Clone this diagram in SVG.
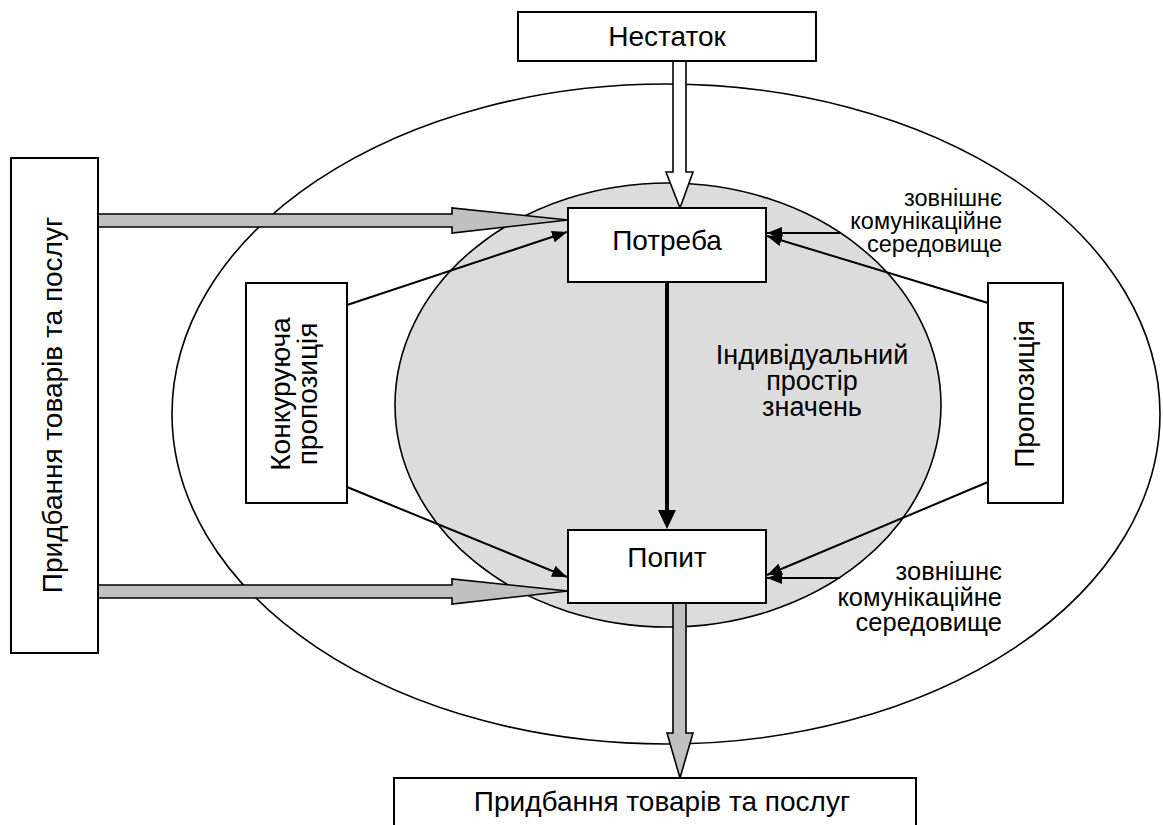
<svg xmlns="http://www.w3.org/2000/svg" width="1163" height="825" viewBox="0 0 1163 825">
<style>
.box{fill:#fff;stroke:#000;stroke-width:2}
.lbl{font-family:"Liberation Sans",Arial,sans-serif;font-size:28px;fill:#000;text-anchor:middle}
.mid{font-family:"Liberation Sans",Arial,sans-serif;font-size:27px;fill:#000;text-anchor:middle}
.side{font-family:"Liberation Sans",Arial,sans-serif;fill:#000;text-anchor:end}
.ln{stroke:#000;stroke-width:2;fill:none}
.gray{fill:#c0c0c0;stroke:#000;stroke-width:1.6;stroke-linejoin:miter}
</style>
<defs>
<marker id="ah" markerUnits="userSpaceOnUse" markerWidth="16" markerHeight="12" refX="15" refY="6" orient="auto">
<path d="M0,0 L15,6 L0,12 z" fill="#000"/>
</marker>
</defs>
<rect width="1163" height="825" fill="#fff"/>
<g id="outer-ellipse"><ellipse cx="666" cy="414" rx="494" ry="330" fill="#fff" stroke="#000" stroke-width="1.6"/></g>
<g id="inner-ellipse"><ellipse cx="668" cy="405" rx="273" ry="222" fill="#dcdcdc" stroke="#000" stroke-width="1.6"/></g>
<g id="center-text">
<text class="mid" x="812" y="364">Індивідуальний</text>
<text class="mid" x="812" y="390">простір</text>
<text class="mid" x="812" y="416">значень</text>
</g>
<g id="connectors">
<polygon class="gray" points="98,214 452,214 452,208 568,220 452,233 452,227 98,227"/>
<polygon class="gray" points="98,585 452,585 452,579 568,591 452,604 452,598 98,598"/>
<polygon class="gray" points="673,603 686,603 686,733 693,733 680,778 667,733 673,733"/>
<polygon points="673,61 686,61 686,172 693,172 680,208 666,172 673,172" fill="#fff" stroke="#000" stroke-width="1.6"/>
<line x1="667" y1="282" x2="667" y2="512" stroke="#000" stroke-width="4"/>
<polygon points="658,510 676,510 667,529" fill="#000"/>
<line class="ln" x1="347" y1="305" x2="567" y2="232" marker-end="url(#ah)"/>
<line class="ln" x1="347" y1="487" x2="567" y2="577" marker-end="url(#ah)"/>
<line class="ln" x1="988" y1="303" x2="767" y2="236" marker-end="url(#ah)"/>
<line class="ln" x1="840" y1="233" x2="767" y2="233" marker-end="url(#ah)"/>
<line class="ln" x1="988" y1="482" x2="767" y2="575" marker-end="url(#ah)"/>
<line class="ln" x1="840" y1="578" x2="767" y2="578" marker-end="url(#ah)"/>
</g>
<g id="nestatok"><rect class="box" x="518" y="12" width="298" height="49"/><text class="lbl" x="667" y="46">Нестаток</text></g>
<g id="potreba"><rect class="box" x="568" y="208" width="198" height="74"/><text class="lbl" x="667" y="250">Потреба</text></g>
<g id="popyt"><rect class="box" x="568" y="530" width="198" height="73"/><text class="lbl" x="667" y="567">Попит</text></g>
<g id="konkur"><rect class="box" x="246" y="283" width="101" height="220"/>
<g transform="translate(295,394) rotate(-90)"><text class="lbl" x="0" y="-5">Конкуруюча</text><text class="lbl" x="0" y="22">пропозиція</text></g></g>
<g id="propoz"><rect class="box" x="988" y="283" width="75" height="220"/>
<g transform="translate(1024,394) rotate(-90)"><text class="lbl" x="0" y="10">Пропозиція</text></g></g>
<g id="left-box"><rect class="box" x="11" y="158" width="87" height="495"/>
<g transform="translate(52,405) rotate(-90)"><text class="lbl" x="0" y="10">Придбання товарів та послуг</text></g></g>
<g id="bottom-box"><rect class="box" x="394" y="778" width="522" height="60"/><text class="lbl" x="662" y="811">Придбання товарів та послуг</text></g>
<g id="env-top" class="side" font-size="23.5">
<text x="1002" y="206">зовнішнє</text>
<text x="1002" y="229">комунікаційне</text>
<text x="1002" y="252">середовище</text>
</g>
<g id="env-bottom" class="side" font-size="25.5">
<text x="1002" y="580">зовнішнє</text>
<text x="1002" y="605.5">комунікаційне</text>
<text x="1002" y="631">середовище</text>
</g>
</svg>
